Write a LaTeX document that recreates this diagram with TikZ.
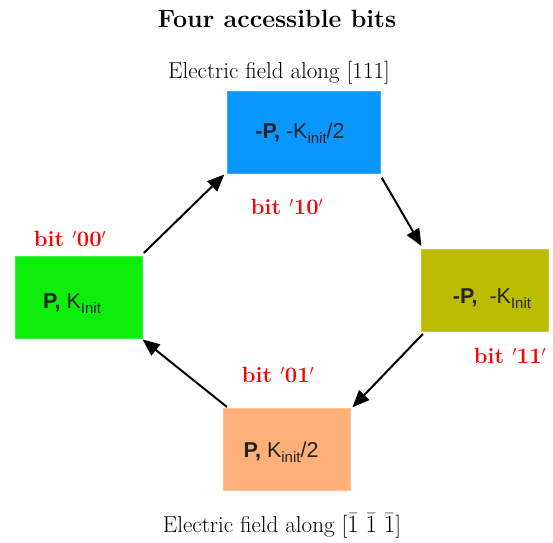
\documentclass[tikz,border=0pt]{standalone}
\usepackage{fontspec}
\newfontfamily\boxfont{Liberation Sans}
\usetikzlibrary{arrows.meta}
\definecolor{cblue}{RGB}{10,150,255}
\definecolor{cgreen}{RGB}{10,238,10}
\definecolor{colive}{RGB}{187,187,0}
\definecolor{corange}{RGB}{255,176,120}
\definecolor{ctext}{RGB}{34,34,34}
\tikzset{
  statebox/.style={fill=#1, draw=#1!80!white, line width=0.8pt, minimum width=127pt, minimum height=82pt, inner sep=0pt, anchor=north west},
  boxtext/.style={font=\boxfont\fontsize{21.5}{24}\selectfont, text=ctext, inner sep=0pt},
  bitlabel/.style={font=\fontsize{22}{24}\selectfont\bfseries, text=red, inner sep=0pt},
  heading/.style={font=\fontsize{23}{26}\selectfont, inner sep=0pt},
  conn/.style={line width=2pt, -{Triangle[length=17pt,width=14pt]}, shorten >=1pt}
}
\newcommand{\sub}[1]{\raisebox{-0.45ex}{\fontsize{15}{16}\selectfont #1}}
\begin{document}
\begin{tikzpicture}[x=1pt,y=-1pt]
\useasboundingbox (0,0) rectangle (553,542);
\node[font=\fontsize{25}{28}\selectfont\bfseries, inner sep=0pt] (title) at (277,19) {Four accessible bits};
\node[heading] (htop) at (279,73) {Electric field along [111]};
\node[heading] (hbot) at (282,526) {Electric field along [$\bar{1}\;\bar{1}\;\bar{1}$]};

\node[statebox=cblue, minimum width=153pt] (b10) at (227,91) {};
\node[statebox=cgreen] (b00) at (15,256) {};
\node[statebox=colive] (b11) at (421,249) {};
\node[statebox=corange] (b01) at (223,408) {};

\node[boxtext] (t10) at (300,133) {\textbf{-P,} -K\sub{init}/2};
\node[boxtext] (t00) at (72,304) {\textbf{P,} K\sub{Init}};
\node[boxtext] (t11) at (492,299) {\textbf{-P,} \ -K\sub{Init}};
\node[boxtext] (t01) at (281,452) {\textbf{P,} K\sub{init}/2};

\node[bitlabel] (l10) at (287,207) {bit \ensuremath{'}10\ensuremath{'}};
\node[bitlabel] (l00) at (70,239) {bit \ensuremath{'}00\ensuremath{'}};
\node[bitlabel] (l11) at (510,356) {bit \ensuremath{'}11\ensuremath{'}};
\node[bitlabel] (l01) at (278,375) {bit \ensuremath{'}01\ensuremath{'}};

\draw[conn] ([shift={(1,-3)}]b00.north east) -- ([shift={(-2,0)}]b10.south west);
\draw[conn] ([shift={(1,4)}]b10.south east) -- ([shift={(1,-2)}]b11.north west);
\draw[conn] ([shift={(2,2)}]b11.south west) -- ([shift={(1,0)}]b01.north east);
\draw[conn] ([shift={(4,-1)}]b01.north west) -- ([shift={(-1,0)}]b00.south east);
\end{tikzpicture}
\end{document}
